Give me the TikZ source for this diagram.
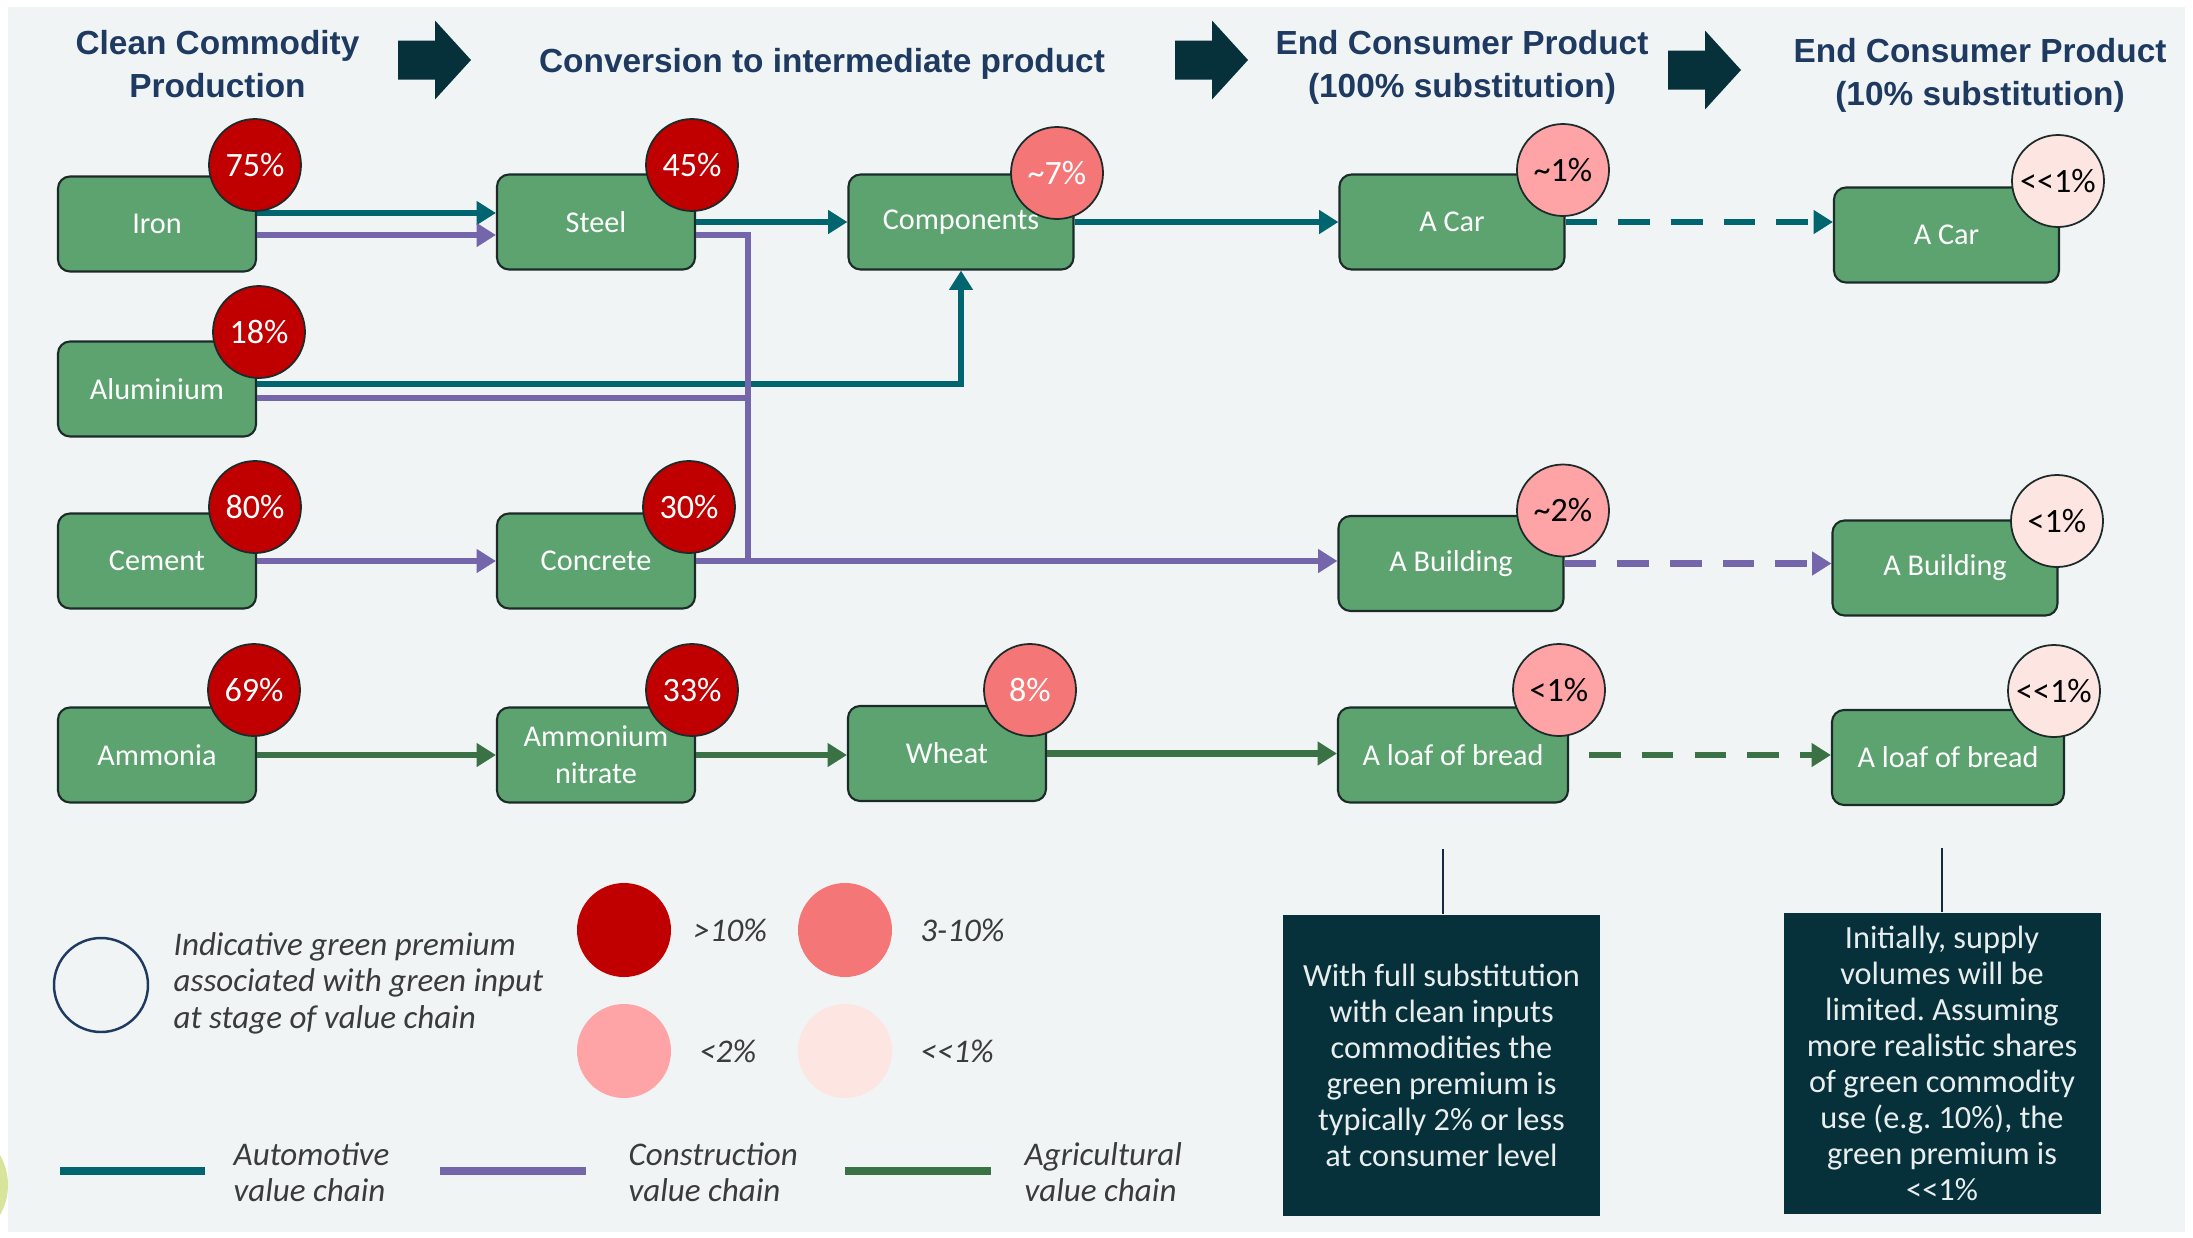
\documentclass[tikz,border=0pt]{standalone}
\usepackage{fontspec}
\setmainfont{Carlito}
\newfontfamily\headfont{Liberation Sans}
\usepackage{tikz}
\usetikzlibrary{positioning, arrows.meta}
\definecolor{PageGray}{HTML}{F0F4F5}
\definecolor{HeadNavy}{HTML}{1F3A60}
\definecolor{ArrowTeal}{HTML}{06303A}
\definecolor{BoxGreen}{HTML}{5CA370}
\definecolor{BoxEdge}{HTML}{1C2B2A}
\definecolor{PremRed}{HTML}{C00000}
\definecolor{PremSalmon}{HTML}{F47676}
\definecolor{PremPink}{HTML}{FFA4A6}
\definecolor{PremBlush}{HTML}{FDE5E2}
\definecolor{CarTeal}{HTML}{00656E}
\definecolor{BuildPurple}{HTML}{7566AC}
\definecolor{FarmGreen}{HTML}{3A7245}
\definecolor{NoteText}{HTML}{E8EDED}
\definecolor{LegendText}{HTML}{3B3B3B}
\definecolor{LimeDot}{HTML}{D8E39C}
\frenchspacing

\begin{document}
\begin{tikzpicture}[
    box/.style={draw=BoxEdge, line width=0.6pt, fill=BoxGreen, rounded corners=0.12cm,
        minimum width=1.98cm, minimum height=0.95cm, inner sep=0pt, align=center,
        text=white, font=\fontsize{8.6}{10.5}\selectfont},
    widebox/.style={box, minimum width=2.25cm},
    badge/.style={circle, draw=BoxEdge, line width=0.5pt, minimum size=0.92cm, inner sep=0pt,
        font=\fontsize{9.7}{11}\selectfont},
    hot/.style={badge, fill=PremRed, text=white},
    warm/.style={badge, fill=PremSalmon, text=white},
    mild/.style={badge, fill=PremPink, text=black},
    faint/.style={badge, fill=PremBlush, text=black},
    header/.style={anchor=north, inner sep=0pt, align=center, text=HeadNavy,
        font=\headfont\bfseries\fontsize{9.5}{12}\selectfont},
    flow/.style={line width=1.8pt, -{Triangle[length=5.5pt, width=6.5pt]}},
    carflow/.style={flow, draw=CarTeal},
    buildflow/.style={flow, draw=BuildPurple},
    buildline/.style={line width=1.8pt, draw=BuildPurple},
    farmflow/.style={flow, draw=FarmGreen},
    later/.style={dash pattern=on 9pt off 6pt},
    keydot/.style={circle, minimum size=0.94cm, inner sep=0pt},
    keytext/.style={inner sep=0pt, text=LegendText, align=left,
        font=\itshape\fontsize{9.4}{10.4}\selectfont},
    note/.style={fill=ArrowTeal, text=NoteText, minimum width=3.17cm, minimum height=3.01cm,
        inner sep=0pt, align=center, font=\fontsize{9.2}{10.25}\selectfont}
]
\useasboundingbox (0,0) rectangle (21.93,-12.38);
\fill[white] (0,0) rectangle (21.93,-12.38);
\fill[PageGray] (0.08,-0.07) rectangle (21.85,-12.32);
\fill[LimeDot] (-0.52,-11.85) circle (0.6);

\node[header] (stage1) at (2.175,-0.30) {Clean Commodity\\Production};
\node[header] (stage2) at (8.22,-0.48) {Conversion to intermediate product};
\node[header] (stage3) at (14.62,-0.30) {End Consumer Product\\(100\% substitution)};
\node[header] (stage4) at (19.80,-0.38) {End Consumer Product\\(10\% substitution)};
\foreach \ax/\ay in {3.98/-0.60, 11.75/-0.60, 16.68/-0.70}
    \fill[ArrowTeal] (\ax,\ay) ++(0,0.195) -- ++(0.37,0) -- ++(0,0.20) -- ++(0.36,-0.395)
        -- ++(-0.36,-0.395) -- ++(0,0.20) -- ++(-0.37,0) -- cycle;

\node[box] (iron) at (1.57,-2.24) {Iron};
\node[box] (steel) at (5.96,-2.22) {Steel};
\node[widebox] (comp) at (9.61,-2.22) {Components};
\node[widebox] (car) at (14.52,-2.22) {A Car};
\node[widebox] (car10) at (19.465,-2.35) {A Car};
\node[box] (alu) at (1.57,-3.89) {Aluminium};
\node[box] (cement) at (1.57,-5.61) {Cement};
\node[box] (concrete) at (5.96,-5.61) {Concrete};
\node[widebox] (bld) at (14.51,-5.635) {A Building};
\node[widebox] (bld10) at (19.45,-5.68) {A Building};
\node[box] (ammonia) at (1.57,-7.55) {Ammonia};
\node[box] (nitrate) at (5.96,-7.55) {Ammonium\\nitrate};
\node[box] (wheat) at (9.47,-7.535) {Wheat};
\node[widebox, minimum width=2.30cm] (bread) at (14.53,-7.55) {A loaf of bread};
\node[widebox, minimum width=2.32cm] (bread10) at (19.48,-7.575) {A loaf of bread};

\draw[carflow] ([yshift=0.11cm]iron.east) -- ([yshift=0.11cm]iron.east -| steel.west);
\draw[carflow] (steel.east) -- (steel.east -| comp.west);
\draw[carflow] (comp.east) -- (comp.east -| car.west);
\draw[carflow, later] (car.east) -- (car.east -| car10.west);
\draw[carflow] ([yshift=0.05cm]alu.east) -| (comp.south);

\coordinate (merge) at ([xshift=0.52cm]concrete.east);
\draw[buildflow] ([yshift=-0.11cm]iron.east) -- ([yshift=-0.11cm]iron.east -| steel.west);
\draw[buildline] ([yshift=-0.13cm]steel.east) -| (merge);
\draw[buildline] ([yshift=-0.09cm]alu.east) -- ([yshift=-0.09cm]alu.east -| merge);
\draw[buildflow] (cement) -- (concrete);
\draw[buildflow] (concrete.east) -- (concrete.east -| bld.west);
\draw[buildflow, later] (bld.east) -- (bld.east -| bld10.west);

\draw[farmflow] (ammonia) -- (nitrate);
\draw[farmflow] (nitrate.east) -- (nitrate.east -| wheat.west);
\draw[farmflow] (wheat.east) -- (wheat.east -| bread.west);
\draw[farmflow, later] ([xshift=0.2cm]bread.east) -- (bread.east -| bread10.west);

\node[hot] (p-iron) at (2.55,-1.65) {75\%};
\node[hot] (p-steel) at (6.92,-1.65) {45\%};
\node[warm] (p-comp) at (10.57,-1.73) {\textasciitilde7\%};
\node[mild] (p-car) at (15.63,-1.70) {\textasciitilde1\%};
\node[faint] (p-car10) at (20.58,-1.81) {<{}<1\%};
\node[hot] (p-alu) at (2.59,-3.32) {18\%};
\node[hot] (p-cement) at (2.55,-5.07) {80\%};
\node[hot] (p-concrete) at (6.89,-5.07) {30\%};
\node[mild] (p-bld) at (15.63,-5.105) {\textasciitilde2\%};
\node[faint] (p-bld10) at (20.57,-5.21) {<1\%};
\node[hot] (p-ammonia) at (2.54,-6.90) {69\%};
\node[hot] (p-nitrate) at (6.92,-6.90) {33\%};
\node[warm] (p-wheat) at (10.30,-6.90) {8\%};
\node[mild] (p-bread) at (15.59,-6.90) {<1\%};
\node[faint] (p-bread10) at (20.54,-6.91) {<{}<1\%};

\node[circle, draw=HeadNavy, line width=0.7pt, minimum size=0.94cm, inner sep=0pt] (key) at (1.01,-9.85) {};
\node[keytext, anchor=west] (keynote) at (1.73,-9.83) {Indicative green premium\\associated with green input\\at stage of value chain};
\node[keydot, fill=PremRed] (key-hot) at (6.24,-9.30) {};
\node[keydot, fill=PremSalmon] (key-warm) at (8.45,-9.30) {};
\node[keydot, fill=PremPink] (key-mild) at (6.24,-10.51) {};
\node[keydot, fill=PremBlush] (key-faint) at (8.45,-10.51) {};
\node[keytext, right=0.21cm of key-hot] {>10\%};
\node[keytext, right=0.27cm of key-warm] {3-10\%};
\node[keytext, right=0.27cm of key-mild] {<2\%};
\node[keytext, right=0.27cm of key-faint] {<{}<1\%};

\draw[line width=2pt, CarTeal] (0.60,-11.71) -- (2.05,-11.71);
\draw[line width=2pt, BuildPurple] (4.40,-11.71) -- (5.86,-11.71);
\draw[line width=2pt, FarmGreen] (8.45,-11.71) -- (9.91,-11.71);
\node[keytext, anchor=west] (key-car) at (2.33,-11.72) {Automotive\\value chain};
\node[keytext, anchor=west] (key-bld) at (6.28,-11.72) {Construction\\value chain};
\node[keytext, anchor=west] (key-farm) at (10.24,-11.72) {Agricultural\\value chain};

\node[note] (note1) at (14.415,-10.655) {With full substitution\\with clean inputs\\commodities the\\green premium is\\typically 2\% or less\\at consumer level};
\node[note] (note2) at (19.42,-10.635) {Initially, supply\\volumes will be\\limited. Assuming\\more realistic shares\\of green commodity\\use (e.g. 10\%), the\\green premium is\\<{}<1\%};
\coordinate (tick1) at (14.43,-8.49);
\coordinate (tick2) at (19.42,-8.48);
\draw[line width=0.7pt, HeadNavy!70!black] (tick1) -- (tick1 |- note1.north);
\draw[line width=0.7pt, HeadNavy!70!black] (tick2) -- (tick2 |- note2.north);
\end{tikzpicture}
\end{document}
